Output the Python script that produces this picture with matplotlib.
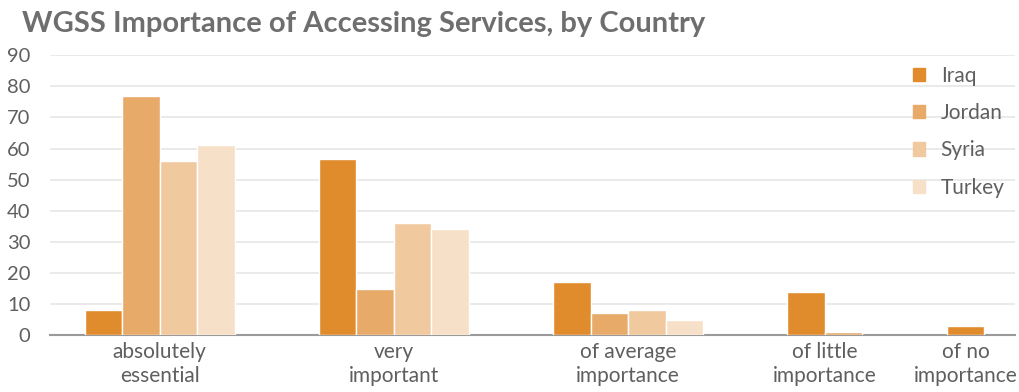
import numpy as np
import matplotlib.pyplot as plt
from matplotlib.patches import Rectangle

plt.rcParams['font.family'] = ['Lato', 'DejaVu Sans']

categories = ['absolutely\nessential', 'very\nimportant', 'of average\nimportance',
              'of little\nimportance', 'of no\nimportance']
countries = ['Iraq', 'Jordan', 'Syria', 'Turkey']
iraq = [8, 56.5, 17, 14, 3]
jordan = [77, 15, 7, 1, 0]
syria = [56, 36, 8, 0, 0]
turkey = [61, 34, 5, 0, 0]
colors = ['#e08b2c', '#e8aa69', '#f1c99e', '#f7e0c8']

values = np.array([iraq, jordan, syria, turkey])
text_color = '#5f5f5f'

fig = plt.figure(figsize=(10.19, 3.92), dpi=100)
ax = fig.add_axes([0.049, 0.145, 0.947, 0.714])

# each group only takes room for its non-empty bars
gap = 2.25
start = 0.0
centers = []
for g in range(len(categories)):
    col = values[:, g]
    n = int(np.sum(col > 0))
    for k in range(n):
        ax.bar(start + k + 0.5, col[k], width=1.0, color=colors[k],
               edgecolor='white', linewidth=1.0, zorder=5)
    centers.append(start + n / 2)
    start += n + gap
end = start - gap

ax.set_xlim(-0.93, end + 0.82)
ax.set_ylim(0, 90)
ax.set_yticks(range(0, 91, 10))
ax.yaxis.grid(True, color='#e6e6e6', linewidth=1.2, zorder=0)
ax.set_xticks(centers)
ax.set_xticklabels(categories, fontsize=15, color=text_color, linespacing=1.25)
ax.tick_params(axis='both', length=0, labelcolor=text_color)
ax.tick_params(axis='y', labelsize=14.5, pad=14)
ax.tick_params(axis='x', pad=5)
for lab in ax.get_yticklabels():
    lab.set_horizontalalignment('right')
for s in ['top', 'right', 'left']:
    ax.spines[s].set_visible(False)
ax.spines['bottom'].set_color('#9a9a9a')
ax.spines['bottom'].set_linewidth(1.5)
ax.spines['bottom'].set_zorder(4)

handles = [Rectangle((0, 0), 1, 1, color=c) for c in colors]
leg = ax.legend(handles, countries, loc='upper right', bbox_to_anchor=(1.0, 1.0),
                frameon=False, fontsize=15, handlelength=0.6, handleheight=0.6,
                labelspacing=0.83, handletextpad=0.75, borderaxespad=0.1)
for t in leg.get_texts():
    t.set_color(text_color)

fig.text(0.022, 0.938, 'WGSS Importance of Accessing Services, by Country',
         fontsize=21, fontweight='bold', color='#6e6e6e', va='center')

fig.savefig('out.png', dpi=100)
